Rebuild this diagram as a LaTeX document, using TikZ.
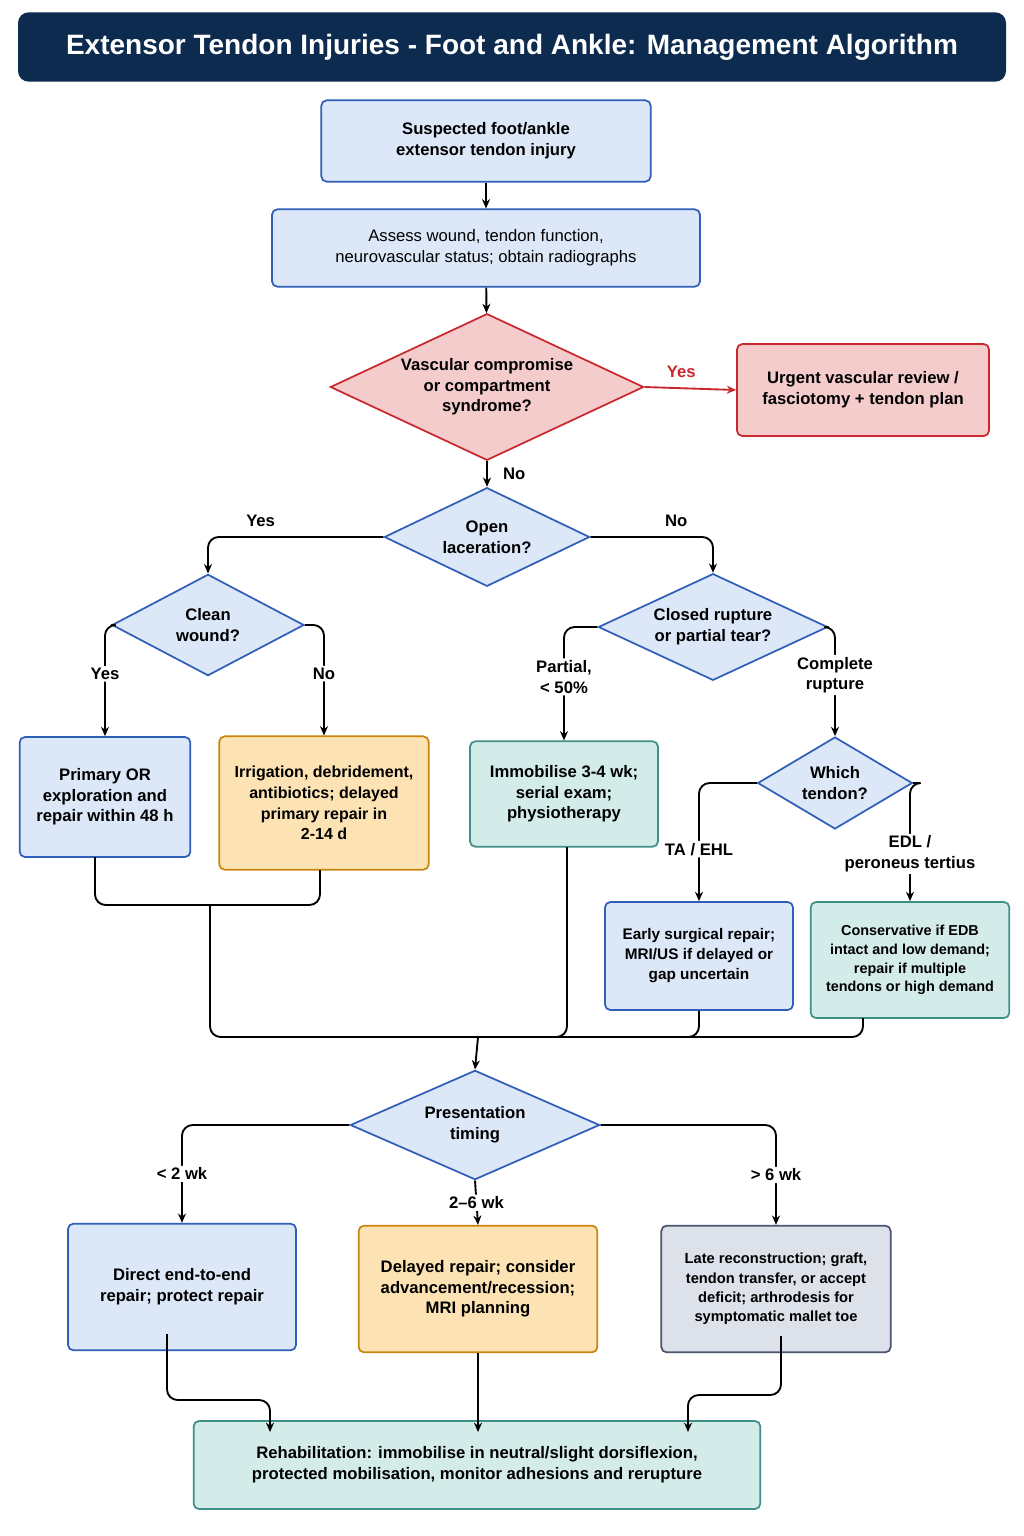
\documentclass[tikz,border=0pt]{standalone}
\usepackage{fontspec}
\setmainfont{Liberation Sans}
\usetikzlibrary{shapes.geometric,arrows.meta}
\definecolor{bfill}{HTML}{DCE8F8}\definecolor{bdraw}{HTML}{2F5FB8}
\definecolor{ofill}{HTML}{FDE3B3}\definecolor{odraw}{HTML}{C8860F}
\definecolor{tfill}{HTML}{D3ECE9}\definecolor{tdraw}{HTML}{3E8F88}
\definecolor{rfill}{HTML}{F5CCCC}\definecolor{rdraw}{HTML}{C8282E}
\definecolor{gfill}{HTML}{DDE1EA}\definecolor{gdraw}{HTML}{4A5670}
\definecolor{navy}{HTML}{0D2A4F}
\begin{document}
\begin{tikzpicture}[x=0.75pt,y=-0.75pt,
 font=\fontsize{12.5}{15.5}\selectfont\bfseries,
 box/.style={rectangle,rounded corners=4pt,line width=1.3pt,align=center,inner sep=2pt},
 bb/.style={box,fill=bfill,draw=bdraw},
 ob/.style={box,fill=ofill,draw=odraw},
 tb/.style={box,fill=tfill,draw=tdraw},
 rb/.style={box,fill=rfill,draw=rdraw},
 gb/.style={box,fill=gfill,draw=gdraw},
 dia/.style={diamond,aspect=2.2,fill=bfill,draw=bdraw,line width=1.3pt,align=center,inner sep=0pt},
 con/.style={line width=1.4pt,rounded corners=8pt},
 arr/.style={con,-{Stealth[length=7pt,width=6pt]}},
 lab/.style={fill=white,inner sep=1.5pt,align=center}]
\useasboundingbox (0,0) rectangle (1024,1536);
\fill[white] (0,0) rectangle (1024,1536);
\node[fill=navy,rounded corners=8pt,minimum width=741pt,minimum height=52pt,text=white,font=\fontsize{21}{24}\selectfont\bfseries] (title) at (512,47) {Extensor Tendon Injuries - Foot and Ankle: Management Algorithm};
\node[bb,minimum width=247pt,minimum height=61pt] (s1) at (486,141) {Suspected foot/ankle\\extensor tendon injury};
\node[bb,minimum width=321pt,minimum height=58pt,font=\fontsize{12.5}{15.5}\selectfont\mdseries] (s2) at (486,248) {Assess wound, tendon function,\\neurovascular status; obtain radiographs};
\node[dia,fill=rfill,draw=rdraw,minimum width=235pt,minimum height=110pt] (d1) at (487,387) {Vascular compromise\\or compartment\\syndrome?};
\node[rb,minimum width=189pt,minimum height=69pt] (r1) at (863,390) {Urgent vascular review /\\fasciotomy + tendon plan};
\node[dia,minimum width=154pt,minimum height=74pt] (d2) at (487,537) {Open\\laceration?};
\node[dia,minimum width=144pt,minimum height=76pt] (d3) at (208,625) {Clean\\wound?};
\node[dia,minimum width=172pt,minimum height=80pt] (d4) at (713,627) {Closed rupture\\or partial tear?};
\node[dia,minimum width=116pt,minimum height=69pt] (d5) at (835,783) {Which\\tendon?};
\node[bb,minimum width=128pt,minimum height=90pt] (b1) at (105,797) {Primary OR\\exploration and\\repair within 48 h};
\node[ob,minimum width=157pt,minimum height=100pt,font=\fontsize{12}{15.5}\selectfont\bfseries] (b2) at (324,803) {Irrigation, debridement,\\antibiotics; delayed\\primary repair in\\2-14 d};
\node[tb,minimum width=141pt,minimum height=79pt] (b3) at (564,794) {Immobilise 3-4 wk;\\serial exam;\\physiotherapy};
\node[bb,minimum width=141pt,minimum height=81pt,font=\fontsize{11.5}{15}\selectfont\bfseries] (b4) at (699,956) {Early surgical repair;\\MRI/US if delayed or\\gap uncertain};
\node[tb,minimum width=149pt,minimum height=87pt,font=\fontsize{10.8}{14}\selectfont\bfseries] (b5) at (910,960) {Conservative if EDB\\intact and low demand;\\repair if multiple\\tendons or high demand};
\node[dia,minimum width=187pt,minimum height=82pt] (d6) at (475,1125) {Presentation\\timing};
\node[bb,minimum width=171pt,minimum height=95pt] (b6) at (182,1287) {Direct end-to-end\\repair; protect repair};
\node[ob,minimum width=179pt,minimum height=95pt] (b7) at (478,1289) {Delayed repair; consider\\advancement/recession;\\MRI planning};
\node[gb,minimum width=172pt,minimum height=95pt,font=\fontsize{11}{14.5}\selectfont\bfseries] (b8) at (776,1289) {Late reconstruction; graft,\\tendon transfer, or accept\\deficit; arthrodesis for\\symptomatic mallet toe};
\node[tb,minimum width=425pt,minimum height=66pt] (b9) at (477,1465) {Rehabilitation: immobilise in neutral/slight dorsiflexion,\\protected mobilisation, monitor adhesions and rerupture};
% connectors
\draw[arr] (s1) -- (s2);
\draw[arr] (s2) -- (d1);
\draw[arr,draw=rdraw] (d1.east) -- (r1.west) node[pos=0.4,above=4pt,text=rdraw]{Yes};
\draw[arr] (d1.south) -- (d2.north) node[pos=0.5,right=8pt]{No};
\draw[arr] (d2.west) -| (d3.north) node[pos=0.35,above=4pt]{Yes};
\draw[arr] (d2.east) -| (d4.north) node[pos=0.35,above=4pt]{No};
\draw[arr] (d3.west) -| (b1.north) node[pos=0.72,lab]{Yes};
\draw[arr] (d3.east) -| (b2.north) node[pos=0.72,lab]{No};
\draw[arr] (d4.west) -| (b3.north) node[pos=0.72,lab]{Partial,\\< 50\%};
\draw[arr] (d4.east) -| (d5.north) node[pos=0.72,lab]{Complete\\rupture};
\draw[arr] (d5.west) -| (b4.north) node[pos=0.78,lab]{TA / EHL};
\draw[arr] (d5.east) -| (b5.north) node[pos=0.8,lab]{EDL /\\peroneus tertius};
\coordinate (m) at (478,1037);
\coordinate (lj) at (210,905);
\draw[con] (95,857) |- (lj);
\draw[con] (320,870) |- (lj);
\draw[con] (lj) |- (m);
\draw[con] (567,847) |- (m);
\draw[con] (b4.south) |- (m);
\draw[con] (863,1018) |- (m);
\draw[arr] (m) -- (d6.north);
\draw[arr] (d6.west) -| (b6.north) node[pos=0.75,lab]{< 2 wk};
\draw[arr] (d6.south) -- (b7.north) node[pos=0.5,lab]{2--6 wk};
\draw[arr] (d6.east) -| (b8.north) node[pos=0.75,lab]{> 6 wk};
\draw[arr] (167,1334) |- (270,1400) -- (270,1432);
\draw[arr] (b7.south) -- (478,1432);
\draw[arr] (781,1336) |- (688,1395) -- (688,1432);
\end{tikzpicture}
\end{document}
